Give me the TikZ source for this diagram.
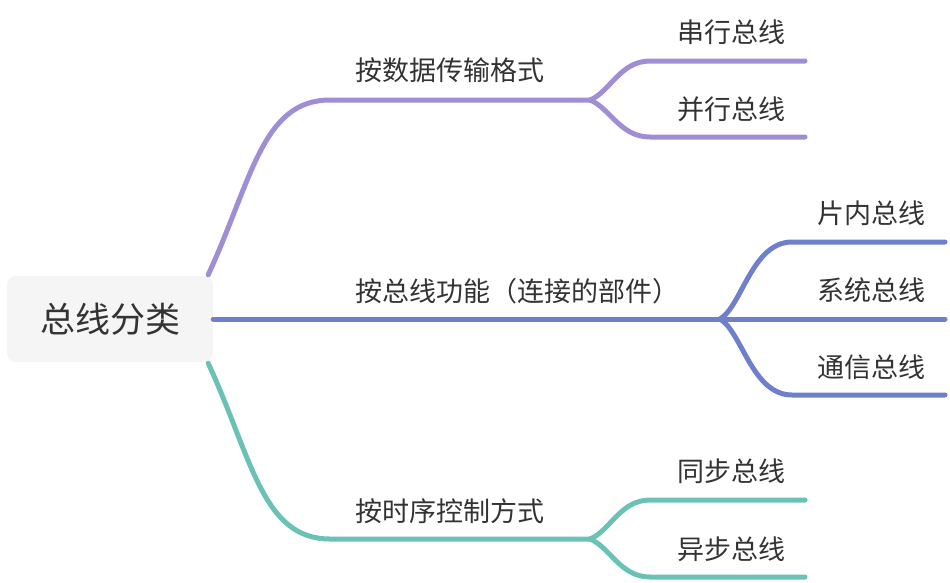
\documentclass[tikz,border=0pt]{standalone}
\usepackage{fontspec}
\setmainfont{Noto Sans CJK SC}
\usetikzlibrary{positioning}

\definecolor{inkgrey}{HTML}{333333}
\definecolor{rootfill}{HTML}{F5F5F5}
\definecolor{purplebr}{HTML}{9F8DD5}
\definecolor{bluebr}{HTML}{6E7FCB}
\definecolor{tealbr}{HTML}{6BC1B6}

\begin{document}
\begin{tikzpicture}[
  x=1pt, y=-1pt,
  rootbox/.style={
    fill=rootfill,
    rounded corners=9pt,
    minimum width=206pt,
    minimum height=86pt,
    inner sep=0pt,
    text=inkgrey,
    font=\fontsize{35}{40}\selectfont
  },
  branchtext/.style={anchor=west, inner sep=0pt, text=inkgrey, font=\fontsize{27}{32}\selectfont},
  leaftext/.style={branchtext},
  branch/.style={line width=5pt, line cap=round}
]
\useasboundingbox (0,0) rectangle (950,582);

\node[rootbox] (root) at (110,319) {总线分类};

% first level
\node[branchtext] (format) at (355,70) {按数据传输格式};
\node[branchtext] (function) at (355,291) {按总线功能（连接的部件）};
\node[branchtext] (timing) at (355,511) {按时序控制方式};

% second level
\node[leaftext] (serial) at (677,32) {串行总线};
\node[leaftext] (parallel) at (677,109) {并行总线};
\node[leaftext] (onchip) at (817,213) {片内总线};
\node[leaftext] (system) at (817,290) {系统总线};
\node[leaftext] (comm) at (817,367) {通信总线};
\node[leaftext] (sync) at (677,471) {同步总线};
\node[leaftext] (async) at (677,549) {异步总线};

\coordinate (formatfork) at (590,100);
\coordinate (functionfork) at (720,319);
\coordinate (timingfork) at (590,539);

\coordinate (serialend) at (805,61);
\coordinate (parallelend) at (805,137);
\coordinate (onchipend) at (945,242);
\coordinate (systemend) at (945,319);
\coordinate (commend) at (945,395);
\coordinate (syncend) at (805,500);
\coordinate (asyncend) at (805,577);

\draw[branch, purplebr] ([xshift=-5pt,yshift=1pt]root.north east)
  .. controls (252,180) and (262,100) .. (330,100) -- (formatfork);
\draw[branch, bluebr] (root.east) -- (functionfork);
\draw[branch, tealbr] ([xshift=-5pt,yshift=-1pt]root.south east)
  .. controls (252,458) and (262,539) .. (330,539) -- (timingfork);

\draw[branch, purplebr] (formatfork) .. controls (610,92) and (620,61) .. (650,61) -- (serialend);
\draw[branch, purplebr] (formatfork) .. controls (610,108) and (620,137) .. (650,137) -- (parallelend);

\draw[branch, bluebr] (functionfork) .. controls (742,306) and (752,242) .. (792,242) -- (onchipend);
\draw[branch, bluebr] (functionfork) -- (systemend);
\draw[branch, bluebr] (functionfork) .. controls (742,332) and (752,395) .. (792,395) -- (commend);

\draw[branch, tealbr] (timingfork) .. controls (610,531) and (620,500) .. (650,500) -- (syncend);
\draw[branch, tealbr] (timingfork) .. controls (610,547) and (620,577) .. (650,577) -- (asyncend);
\end{tikzpicture}
\end{document}
